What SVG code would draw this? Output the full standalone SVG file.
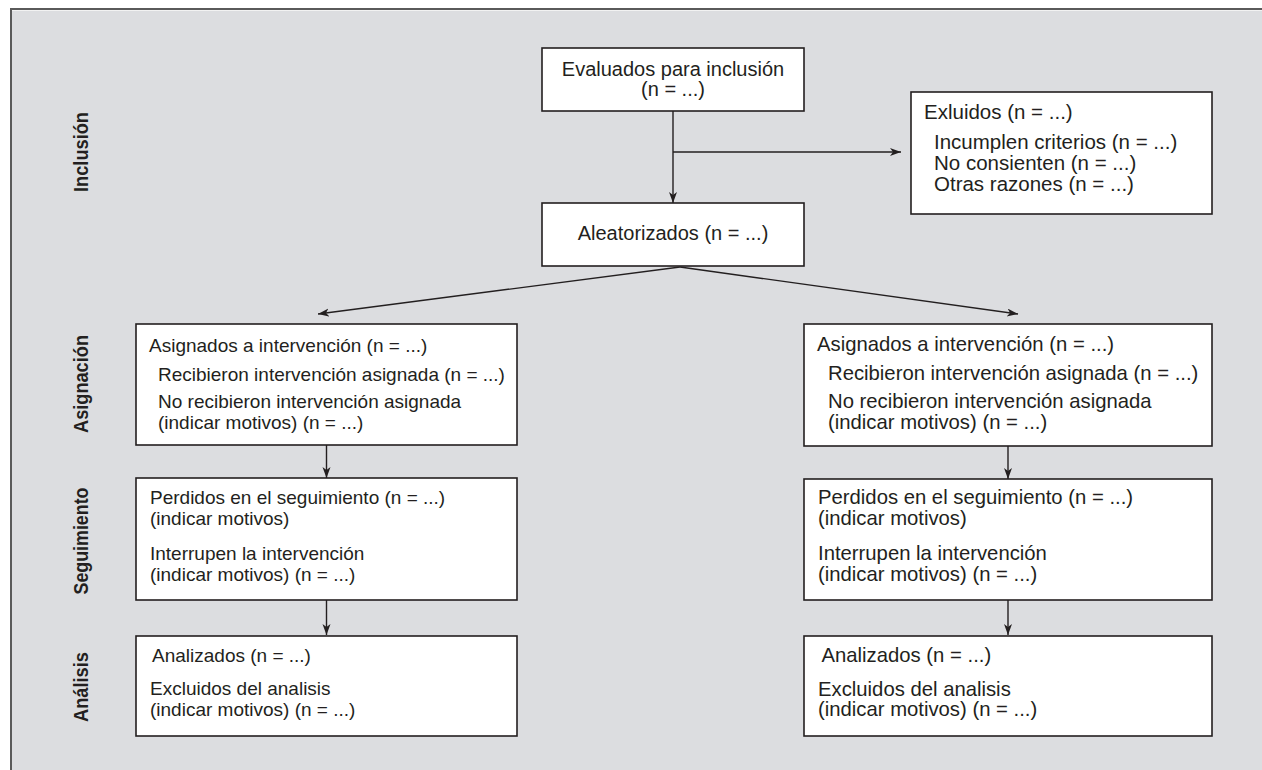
<svg xmlns="http://www.w3.org/2000/svg" width="1262" height="770" viewBox="0 0 1262 770">
<style>
text{font-family:"Liberation Sans",Arial,sans-serif;fill:#231f20}
.t{font-size:20px}
.l{font-size:19px}
.r{font-size:20.3px}
.x{font-size:20.5px}
.lab{font-size:21px;font-weight:bold}
.box{fill:#ffffff;stroke:#231f20;stroke-width:1.6}
.con{fill:none;stroke:#231f20;stroke-width:1.4}
</style>
<defs>
<marker id="ah" markerUnits="userSpaceOnUse" markerWidth="12" markerHeight="10" refX="11" refY="4" orient="auto">
<path d="M0,0 L11,4 L0,8 L3,4 z" fill="#231f20"/>
</marker>
</defs>
<rect x="0" y="0" width="1262" height="770" fill="#ffffff"/>
<rect x="11" y="9" width="1251" height="761" fill="#dcdde0"/>
<line x1="10" y1="9" x2="1262" y2="9" stroke="#5a5a5a" stroke-width="2"/>
<line x1="11" y1="9" x2="11" y2="770" stroke="#5a5a5a" stroke-width="2"/>
<line x1="12" y1="10.5" x2="1262" y2="10.5" stroke="#f2f2f2" stroke-width="1"/>

<g id="labels">
<text class="lab" text-anchor="middle" transform="translate(87.5,152) rotate(-90)" textLength="80" lengthAdjust="spacingAndGlyphs">Inclusión</text>
<text class="lab" text-anchor="middle" transform="translate(87.5,384) rotate(-90)" textLength="98" lengthAdjust="spacingAndGlyphs">Asignación</text>
<text class="lab" text-anchor="middle" transform="translate(87.5,541) rotate(-90)" textLength="107" lengthAdjust="spacingAndGlyphs">Seguimiento</text>
<text class="lab" text-anchor="middle" transform="translate(87.5,687) rotate(-90)" textLength="70" lengthAdjust="spacingAndGlyphs">Análisis</text>
</g>

<g id="connectors">
<line class="con" x1="673" y1="111" x2="673" y2="203" marker-end="url(#ah)"/>
<line class="con" x1="673" y1="152" x2="901" y2="152" marker-end="url(#ah)"/>
<line class="con" x1="680" y1="267" x2="318" y2="314" marker-end="url(#ah)"/>
<line class="con" x1="680" y1="267" x2="1018" y2="314" marker-end="url(#ah)"/>
<line class="con" x1="326.5" y1="445" x2="326.5" y2="478" marker-end="url(#ah)"/>
<line class="con" x1="326.5" y1="600" x2="326.5" y2="635" marker-end="url(#ah)"/>
<line class="con" x1="1008" y1="446" x2="1008" y2="479" marker-end="url(#ah)"/>
<line class="con" x1="1008" y1="600" x2="1008" y2="635" marker-end="url(#ah)"/>
</g>

<g id="evaluados">
<rect class="box" x="542" y="48" width="262" height="63"/>
<text class="t" x="673" y="76" text-anchor="middle">Evaluados para inclusión</text>
<text class="t" x="673" y="96" text-anchor="middle">(n = ...)</text>
</g>

<g id="excluidos">
<rect class="box" x="911" y="92" width="301" height="122"/>
<text class="x" x="924" y="119">Exluidos (n = ...)</text>
<text class="x" x="934" y="149">Incumplen criterios (n = ...)</text>
<text class="x" x="934" y="170">No consienten (n = ...)</text>
<text class="x" x="934" y="190.5">Otras razones (n = ...)</text>
</g>

<g id="aleatorizados">
<rect class="box" x="542" y="203" width="262" height="63"/>
<text class="t" x="673" y="240" text-anchor="middle">Aleatorizados (n = ...)</text>
</g>

<g id="asignacion-izq">
<rect class="box" x="136" y="324" width="381" height="121"/>
<text class="l" x="149" y="351.5">Asignados a intervención (n = ...)</text>
<text class="l" x="158" y="381">Recibieron intervención asignada (n = ...)</text>
<text class="l" x="158" y="408">No recibieron intervención asignada</text>
<text class="l" x="158" y="429">(indicar motivos) (n = ...)</text>
</g>

<g id="seguimiento-izq">
<rect class="box" x="136" y="478" width="381" height="122"/>
<text class="l" x="150" y="504">Perdidos en el seguimiento (n = ...)</text>
<text class="l" x="150" y="525">(indicar motivos)</text>
<text class="l" x="150" y="560">Interrupen la intervención</text>
<text class="l" x="150" y="581">(indicar motivos) (n = ...)</text>
</g>

<g id="analisis-izq">
<rect class="box" x="136" y="636" width="381" height="100"/>
<text class="l" x="152" y="661.5">Analizados (n = ...)</text>
<text class="l" x="150" y="695">Excluidos del analisis</text>
<text class="l" x="150" y="716">(indicar motivos) (n = ...)</text>
</g>

<g id="asignacion-der">
<rect class="box" x="804" y="324" width="408" height="122"/>
<text class="r" x="817" y="351">Asignados a intervención (n = ...)</text>
<text class="r" x="828" y="380">Recibieron intervención asignada (n = ...)</text>
<text class="r" x="828" y="407.5">No recibieron intervención asignada</text>
<text class="r" x="828" y="428.5">(indicar motivos) (n = ...)</text>
</g>

<g id="seguimiento-der">
<rect class="box" x="804" y="479" width="408" height="121"/>
<text class="r" x="818" y="503.5">Perdidos en el seguimiento (n = ...)</text>
<text class="r" x="818" y="525">(indicar motivos)</text>
<text class="r" x="818" y="560">Interrupen la intervención</text>
<text class="r" x="818" y="581">(indicar motivos) (n = ...)</text>
</g>

<g id="analisis-der">
<rect class="box" x="804" y="636" width="408" height="100"/>
<text class="r" x="821.5" y="662">Analizados (n = ...)</text>
<text class="r" x="818" y="695.5">Excluidos del analisis</text>
<text class="r" x="818" y="716">(indicar motivos) (n = ...)</text>
</g>
</svg>
